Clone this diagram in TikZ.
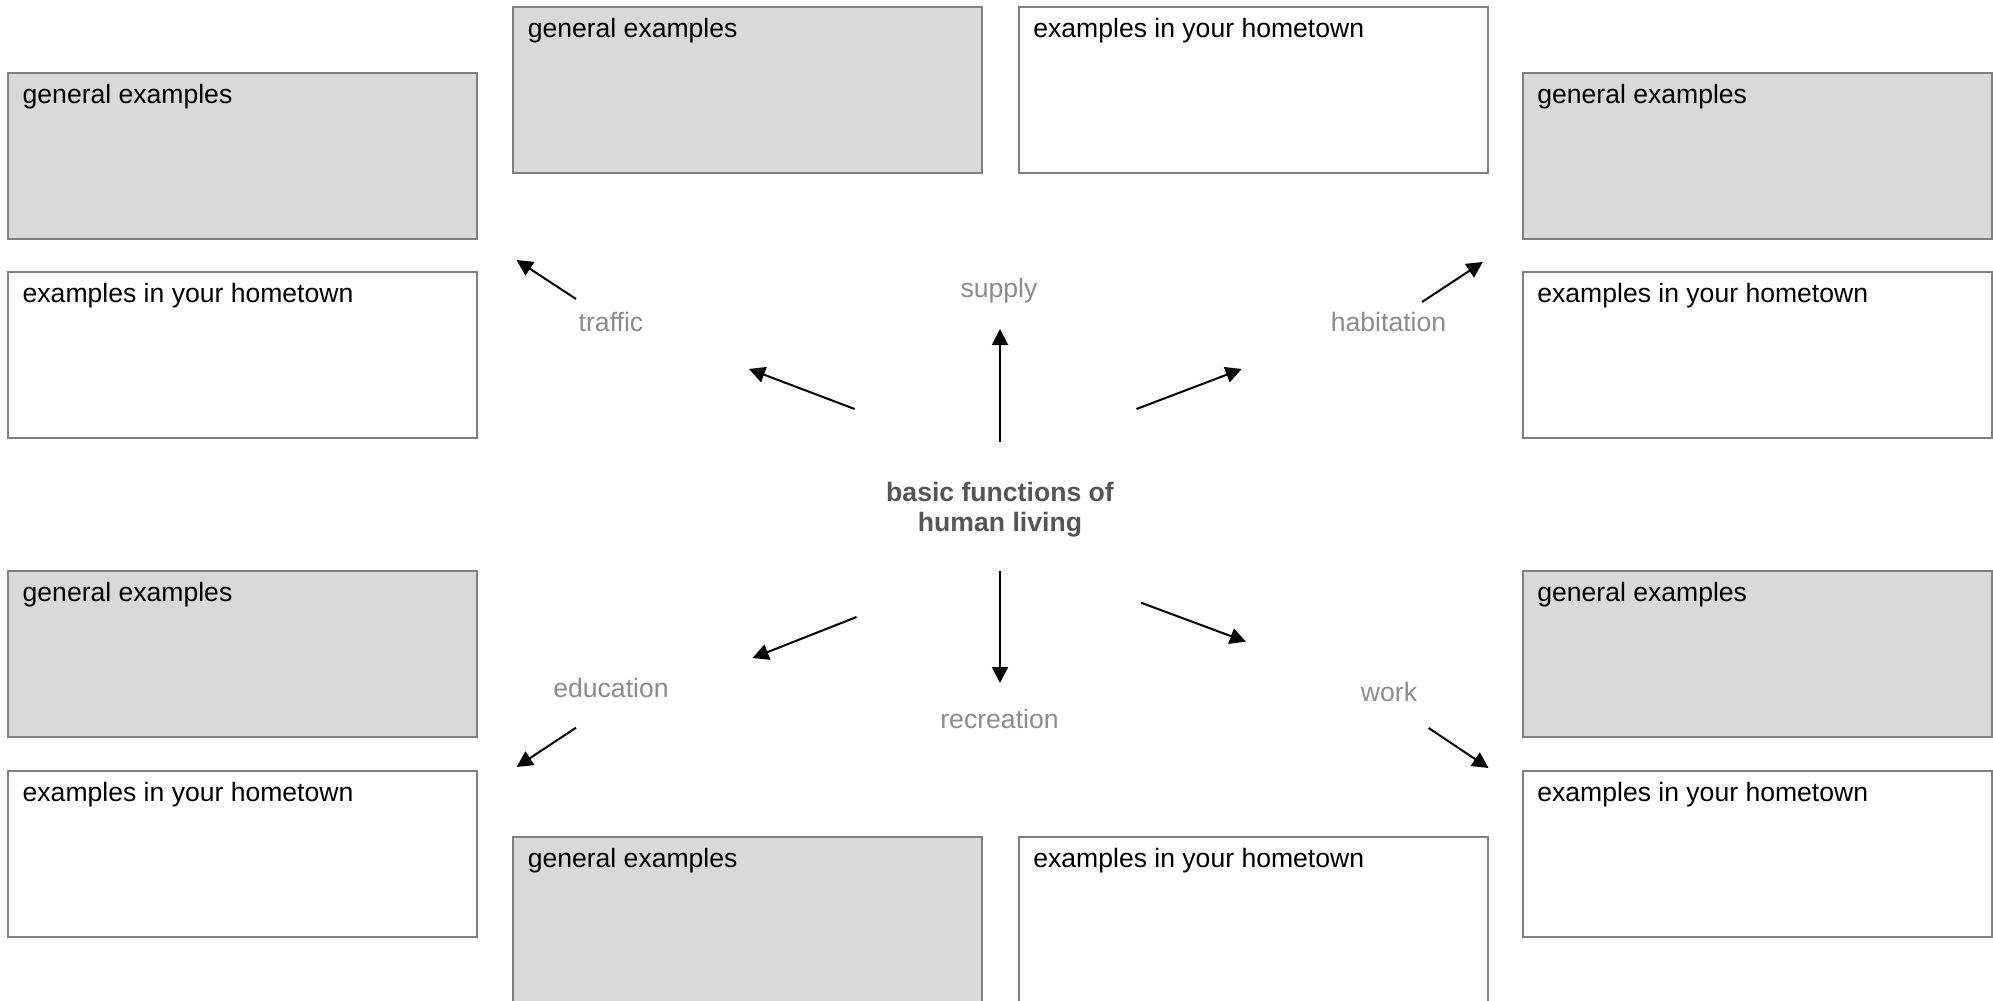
\documentclass[tikz,border=0pt]{standalone}
\usepackage{fontspec}
\setmainfont{Liberation Sans}
\usetikzlibrary{arrows.meta}
\definecolor{boxline}{HTML}{808080}
\definecolor{boxfill}{HTML}{D9D9D9}
\definecolor{labelgray}{HTML}{8C8C8C}
\definecolor{centergray}{HTML}{555555}
\tikzset{
  boxbase/.style={draw=boxline, line width=1pt, minimum width=234.3pt, minimum height=83.15pt, anchor=north west, inner sep=0pt, outer sep=0pt},
  gbox/.style={boxbase, fill=boxfill},
  wbox/.style={boxbase, fill=white},
  boxtext/.style={anchor=base west, inner sep=0pt, text=black, font=\fontsize{13.28pt}{16pt}\selectfont},
  funclabel/.style={anchor=base, inner sep=0pt, text=labelgray, font=\fontsize{13.3pt}{16pt}\selectfont},
  centertext/.style={align=center, inner sep=0pt, text=centergray, font=\fontsize{13.3pt}{15.25pt}\selectfont\bfseries},
  arr/.style={line width=1pt, -{Triangle[length=8pt,width=8pt]}},
}
\begin{document}
\begin{tikzpicture}[x=0.5pt, y=-0.5pt]
\clip (0,0) rectangle (1993,1001);
\fill[white] (0,0) rectangle (1993,1001);
% boxes
\node[gbox] (tg) at (8.3,72.7) {};
\node[wbox] (tw) at (8.3,271.7) {};
\node[gbox] (sg) at (513.4,6.7) {};
\node[wbox] (sw) at (1019,6.7) {};
\node[gbox] (hg) at (1523,72.7) {};
\node[wbox] (hw) at (1523,271.7) {};
\node[gbox] (eg) at (8.3,570.7) {};
\node[wbox] (ew) at (8.3,770.7) {};
\node[gbox] (rg) at (513.4,836.7) {};
\node[wbox] (rw) at (1019,836.7) {};
\node[gbox] (wg) at (1523,570.5) {};
\node[wbox] (ww) at (1523,770.7) {};
% box texts
\foreach \b in {tg,sg,hg,eg,rg,wg}{
  \node[boxtext] at ([xshift=7pt,yshift=-15.5pt]\b.north west) {general examples};
}
\foreach \b in {tw,sw,hw,ew,rw,ww}{
  \node[boxtext] at ([xshift=7pt,yshift=-15.5pt]\b.north west) {examples in your hometown};
}
% center
\node[centertext] (center) at (1000,509.5) {basic functions of\\human living};
% labels
\node[funclabel] (traffic) at (611,331) {traffic};
\node[funclabel] (supply) at (999,297.3) {supply};
\node[funclabel] (habitation) at (1388.5,331) {habitation};
\node[funclabel] (education) at (611,697.7) {education};
\node[funclabel] (recreation) at (999.5,728.3) {recreation};
\node[funclabel] (work) at (1389,701) {work};
% arrow end points
\coordinate (a1s) at (854.6,409);   \coordinate (a1e) at (749,369);
\coordinate (a2s) at (576,299);     \coordinate (a2e) at (516.6,260);
\coordinate (a3s) at (1000,441.7);  \coordinate (a3e) at (1000,329);
\coordinate (a4s) at (1136.5,409);  \coordinate (a4e) at (1241.7,369);
\coordinate (a5s) at (1422,302);    \coordinate (a5e) at (1482.8,262);
\coordinate (a6s) at (856.5,617);   \coordinate (a6e) at (752.6,658);
\coordinate (a7s) at (576,727.7);   \coordinate (a7e) at (516.6,767);
\coordinate (a8s) at (1000,571);    \coordinate (a8e) at (1000,683);
\coordinate (a9s) at (1141,602.7);  \coordinate (a9e) at (1246,641.7);
\coordinate (a10s) at (1428.6,728); \coordinate (a10e) at (1488.5,768);
\foreach \i in {1,...,10}{
  \draw[arr] (a\i s) -- (a\i e);
}
\end{tikzpicture}
\end{document}
